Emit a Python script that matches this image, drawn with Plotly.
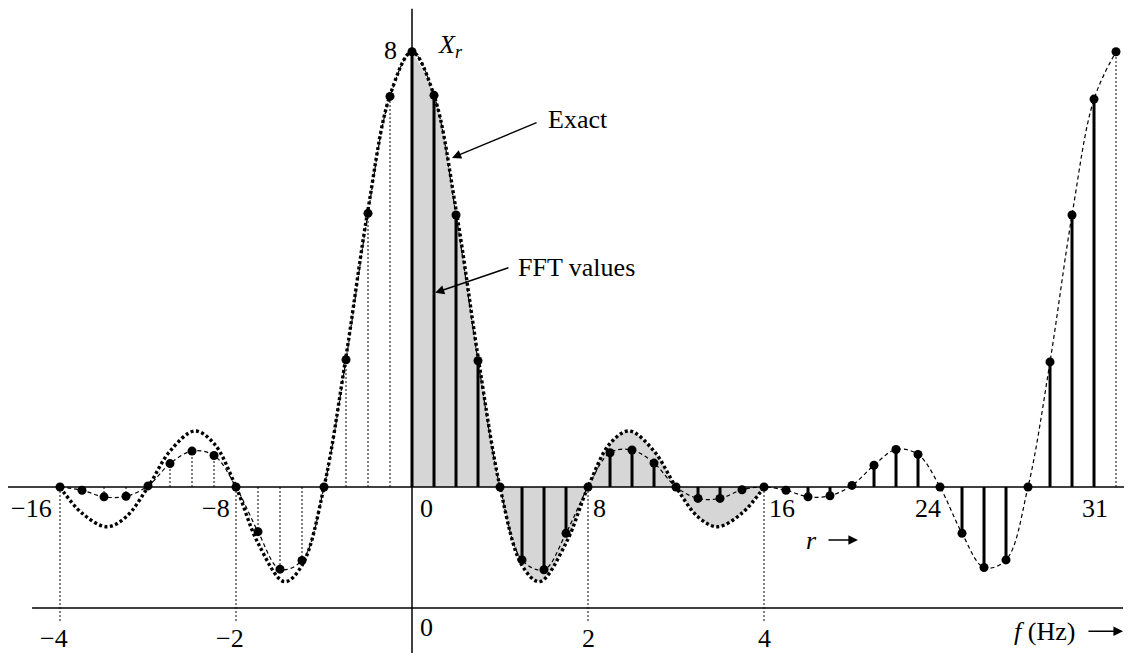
import plotly.graph_objects as go

# ---------------- data ----------------
r_index = list(range(-16, 33))
fft_values = [0, -0.06, -0.18, -0.17, 0.02, 0.43, 0.66, 0.58, 0, -0.82, -1.51, -1.35, 0, 2.34, 5.03, 7.18,
              8.0, 7.2, 5.0, 2.32, 0, -1.34, -1.52, -0.85, 0, 0.63, 0.68, 0.44, 0, -0.21, -0.21, -0.05,
              0, -0.06, -0.18, -0.16, 0.03, 0.40, 0.69, 0.60, 0, -0.85, -1.48, -1.34, 0, 2.30, 5.0, 7.13, 8.0]

exact_f = [-4, -3.75, -3.47, -3.25, -3, -2.75, -2.47, -2.25, -2, -1.75, -1.45, -1.25, -1, -0.75, -0.5, -0.25,
           0, 0.25, 0.5, 0.75, 1, 1.25, 1.45, 1.75, 2, 2.25, 2.47, 2.75, 3, 3.25, 3.47, 3.75, 4]
exact_values = [0, -0.48, -0.73, -0.55, 0, 0.66, 1.03, 0.80, 0, -1.03, -1.74, -1.44, 0, 2.4, 5.1, 7.2,
                8, 7.2, 5.1, 2.4, 0, -1.44, -1.74, -1.03, 0, 0.80, 1.03, 0.66, 0, -0.55, -0.73, -0.48, 0]

r_tick_labels = [-16, -8, 0, 8, 16, 24, 31]
f_tick_labels = [-4, -2, 0, 2, 4]
f_drop_ticks = [-4, -2, 2, 4]
solid_stem_range = (0, 31)
R_PER_HZ = 4  # r index per Hz (T0 = 4 s)

# ---------------- geometry / style ----------------
# the page body has an 8px margin, so the figure starts at (8, 8)
R_RANGE = [-18.364, 32.727]
Y_RANGE = [-3.051, 8.805]
F_AXIS_Y = -2.224
DROP_BOTTOM = -2.48
FONT = "Liberation Serif"
FS = 26

def f2r(f):
    return f * R_PER_HZ

exact_r = [f2r(f) for f in exact_f]

fig = go.Figure()

# shaded area under the exact curve for f >= 0
sh_r = [r for r in exact_r if r >= 0]
sh_v = [v for r, v in zip(exact_r, exact_values) if r >= 0]
fig.add_trace(go.Scatter(x=sh_r, y=sh_v, mode="lines",
                         line=dict(width=0, shape="spline"), fill="tozeroy",
                         fillcolor="#d6d6d6", hoverinfo="skip"))

# dotted drop lines from baseline to the f axis
dx, dy = [], []
for f in f_drop_ticks:
    dx += [f2r(f), f2r(f), None]
    dy += [0, DROP_BOTTOM, None]
fig.add_trace(go.Scatter(x=dx, y=dy, mode="lines",
                         line=dict(color="black", width=1, dash="2px,2px"), hoverinfo="skip"))

# stems
sx, sy, tx, ty = [], [], [], []
for r, v in zip(r_index, fft_values):
    if solid_stem_range[0] <= r <= solid_stem_range[1]:
        sx += [r, r, None]
        sy += [0, v, None]
    else:
        tx += [r, r, None]
        ty += [0, v, None]
fig.add_trace(go.Scatter(x=tx, y=ty, mode="lines",
                         line=dict(color="black", width=1, dash="2px,2px"), hoverinfo="skip"))
fig.add_trace(go.Scatter(x=sx, y=sy, mode="lines",
                         line=dict(color="black", width=3), hoverinfo="skip"))

# exact curve (heavy dotted)
fig.add_trace(go.Scatter(x=exact_r, y=exact_values, mode="lines",
                         line=dict(color="black", width=3.4, dash="3px,2.5px", shape="spline"),
                         hoverinfo="skip"))

# FFT values: thin dashed connecting line + dots
fig.add_trace(go.Scatter(x=r_index, y=fft_values, mode="lines",
                         line=dict(color="black", width=1.2, dash="4px,3px", shape="spline"),
                         hoverinfo="skip"))
fig.add_trace(go.Scatter(x=r_index, y=fft_values, mode="markers",
                         marker=dict(color="black", size=9), hoverinfo="skip"))

# axis lines
shapes = [
    dict(type="line", xref="x", yref="y", x0=-18.45, x1=R_RANGE[1], y0=0, y1=0,
         line=dict(color="black", width=1.5)),
    dict(type="line", xref="x", yref="y", x0=-17.27, x1=32.32, y0=F_AXIS_Y, y1=F_AXIS_Y,
         line=dict(color="black", width=1.5)),
    dict(type="line", xref="x", yref="y", x0=0, x1=0, y0=Y_RANGE[0], y1=8.79,
         line=dict(color="black", width=1.5)),
]

tf = dict(family=FONT, size=FS, color="black")
ann = []
# r tick labels
r_lab_style = {-16: ("right", -6), -8: ("right", -4), 0: ("left", 6), 8: ("left", 3),
               16: ("left", 3), 24: ("center", -12), 31: ("center", 1)}
for r in r_tick_labels:
    anchor, xs = r_lab_style[r]
    ann.append(dict(x=r, y=0, xref="x", yref="y", text=str(r).replace("-", "\u2212"),
                    showarrow=False, xanchor=anchor, yanchor="middle", xshift=xs, yshift=-21, font=tf))
# f tick labels
for f in f_tick_labels:
    if f == 0:
        ann.append(dict(x=f2r(f), y=F_AXIS_Y, xref="x", yref="y", text="0", showarrow=False,
                        xanchor="left", yanchor="middle", xshift=6, yshift=-19, font=tf))
    else:
        ann.append(dict(x=f2r(f), y=F_AXIS_Y, xref="x", yref="y", text=str(f).replace("-", "\u2212"),
                        showarrow=False, xanchor="center", yanchor="middle",
                        xshift=-6 if f < 0 else 0, yshift=-30, font=tf))

# peak label and X_r
ann.append(dict(x=-1.0, y=8.03, xref="x", yref="y", text="8", showarrow=False, font=tf))
ann.append(dict(x=1.73, y=8.1, xref="x", yref="y", text="<i>X</i><sub><i>r</i></sub>",
                showarrow=False, font=tf))

# Exact label with arrow
ann.append(dict(x=1.82, y=6.05, xref="x", yref="y", ax=5.73, ay=6.71, axref="x", ayref="y",
                text="", showarrow=True, arrowhead=2, arrowsize=1.3, arrowwidth=1.4, arrowcolor="black"))
ann.append(dict(x=6.1, y=6.75, xref="x", yref="y", text="Exact", showarrow=False,
                xanchor="left", yanchor="middle", font=tf))
# FFT values label with arrow
ann.append(dict(x=1.05, y=3.57, xref="x", yref="y", ax=4.45, ay=4.04, axref="x", ayref="y",
                text="", showarrow=True, arrowhead=2, arrowsize=1.3, arrowwidth=1.4, arrowcolor="black"))
ann.append(dict(x=4.72, y=4.04, xref="x", yref="y", text="FFT values", showarrow=False,
                xanchor="left", yanchor="middle", font=tf))

# r -> label
ann.append(dict(x=18.18, y=-0.974, xref="x", yref="y", text="<i>r</i>", showarrow=False,
                xanchor="center", yanchor="middle", font=tf))
ann.append(dict(x=20.27, y=-0.974, xref="x", yref="y", ax=18.86, ay=-0.974, axref="x", ayref="y",
                text="", showarrow=True, arrowhead=2, arrowsize=1.2, arrowwidth=1.6, arrowcolor="black"))
# f (Hz) -> label
ann.append(dict(x=f2r(7.19), y=-2.65, xref="x", yref="y", text="<i>f</i> (Hz)", showarrow=False,
                xanchor="center", yanchor="middle", font=tf))
ann.append(dict(x=32.32, y=-2.65, xref="x", yref="y", ax=30.68, ay=-2.65, axref="x", ayref="y",
                text="", showarrow=True, arrowhead=2, arrowsize=1.2, arrowwidth=1.6, arrowcolor="black"))

fig.update_layout(
    width=1124, height=645, margin=dict(l=0, r=0, t=0, b=0),
    paper_bgcolor="white", plot_bgcolor="white", showlegend=False,
    xaxis=dict(range=R_RANGE, visible=False, fixedrange=True),
    yaxis=dict(range=Y_RANGE, visible=False, fixedrange=True),
    shapes=shapes, annotations=ann,
)

fig.write_html("out.html")
